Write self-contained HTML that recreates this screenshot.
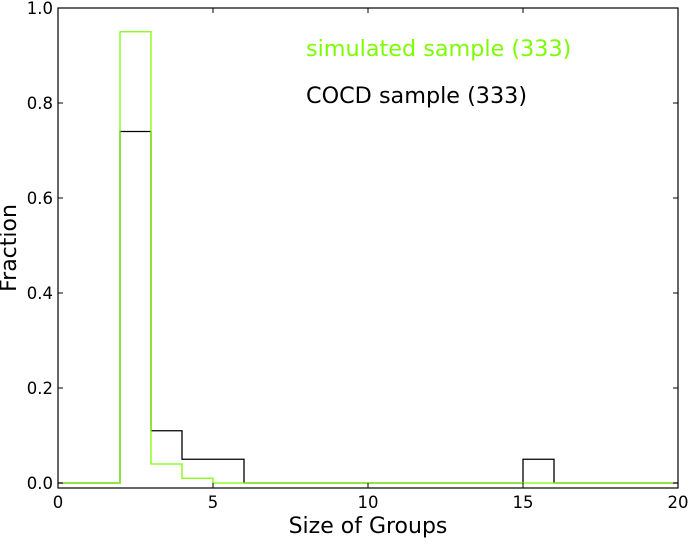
<!DOCTYPE html>
<html><head><meta charset="utf-8"><style>
body{margin:0;background:#fff}
svg text{font-family:"DejaVu Sans","Liberation Sans",sans-serif}
</style></head><body>
<svg id="c" width="688" height="538" xmlns="http://www.w3.org/2000/svg"></svg>
<script>
const binEdges=[0,1,2,3,4,5,6,7,8,9,10,11,12,13,14,15,16,17,18,19,20];
const cocdValues=[0,0,0.74,0.11,0.05,0.05,0,0,0,0,0,0,0,0,0,0.05,0,0,0,0];
const simValues=[0,0,0.95,0.04,0.01,0,0,0,0,0,0,0,0,0,0,0,0,0,0,0];
const xTicks=[0,5,10,15,20];
const yTicks=[0.0,0.2,0.4,0.6,0.8,1.0];
const L=58,R=678,T=8,B=488,xmin=0,xmax=20,ymin=-0.0105,ymax=1.0;
const sx=v=>L+(v-xmin)/(xmax-xmin)*(R-L);
const sy=v=>B-(v-ymin)/(ymax-ymin)*(B-T);
const svg=document.getElementById('c');
const NS='http://www.w3.org/2000/svg';
function mk(tag,attrs,parent){const e=document.createElementNS(NS,tag);for(const k in attrs)e.setAttribute(k,attrs[k]);(parent||svg).appendChild(e);return e;}
function stepPath(vals){let d='M'+sx(binEdges[0])+','+sy(vals[0]);for(let i=0;i<vals.length;i++){d+=' L'+sx(binEdges[i])+','+sy(vals[i])+' L'+sx(binEdges[i+1])+','+sy(vals[i]);}return d;}
let p=mk('path',{d:stepPath(cocdValues),fill:'none',stroke:'#000','stroke-width':1.3});


p=mk('path',{d:stepPath(simValues),fill:'none',stroke:'#7cfc00','stroke-width':1.3});


let fr=mk('rect',{x:L,y:T,width:R-L,height:B-T,fill:'none',stroke:'#000','stroke-width':1.2});


xTicks.forEach(v=>{
 mk('line',{x1:sx(v),x2:sx(v),y1:B,y2:B-5,stroke:'#000'});
 mk('line',{x1:sx(v),x2:sx(v),y1:T,y2:T+5,stroke:'#000'});
 const t=mk('text',{x:sx(v),y:B+20,'text-anchor':'middle','font-size':16.5});t.textContent=v;
 
 
});
yTicks.forEach(v=>{
 mk('line',{x1:L,x2:L+5,y1:sy(v),y2:sy(v),stroke:'#000'});
 mk('line',{x1:R,x2:R-5,y1:sy(v),y2:sy(v),stroke:'#000'});
 const t=mk('text',{x:L-5,y:sy(v)+6,'text-anchor':'end','font-size':16.5});t.textContent=v.toFixed(1);
 
 
});
let t=mk('text',{x:368,y:533,'text-anchor':'middle','font-size':22});t.textContent='Size of Groups';


t=mk('text',{x:16,y:248,'text-anchor':'middle','font-size':22,transform:'rotate(-90 16 248)'});t.textContent='Fraction';


t=mk('text',{x:306,y:56,'font-size':22.3,fill:'#7cfc00'});t.textContent='simulated sample (333)';


t=mk('text',{x:306,y:103,'font-size':22.3,fill:'#000'});t.textContent='COCD sample (333)';


</script>
</body></html>
